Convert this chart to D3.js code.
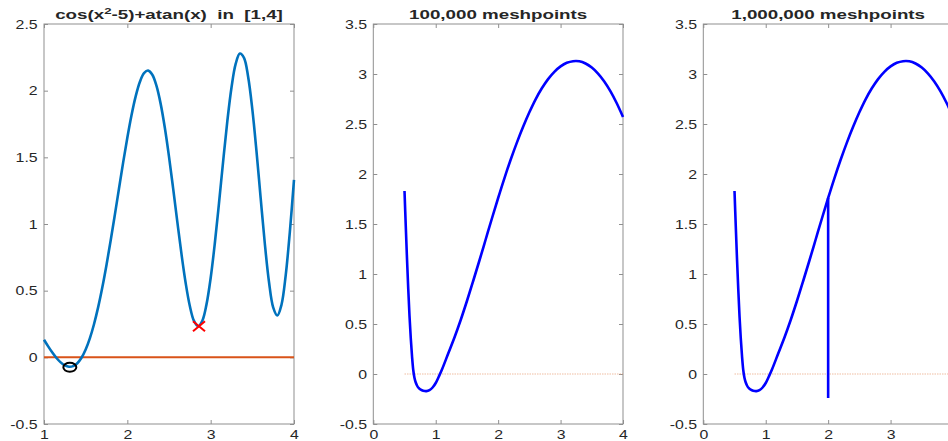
<!DOCTYPE html>
<html>
<head>
<meta charset="utf-8">
<script src="https://cdn.jsdelivr.net/npm/d3@7"></script>
<style>
  body { margin: 0; background: #fff; }
  svg { display: block; }
  text { font-family: "Liberation Sans", Arial, Helvetica, sans-serif; fill: #262626; }
</style>
</head>
<body>
<div id="chart"></div>
<script>
// panel 1: cos(x^2-5)+atan(x) sampled on [1,4]
var fx = [1.00, 1.05, 1.10, 1.15, 1.20, 1.25, 1.30, 1.35, 1.40, 1.45, 1.50, 1.55, 1.60, 1.65, 1.70, 1.75,
  1.80, 1.85, 1.90, 1.95, 2.00, 2.05, 2.10, 2.15, 2.20, 2.25, 2.30, 2.35, 2.40, 2.45, 2.50, 2.55,
  2.60, 2.65, 2.70, 2.75, 2.80, 2.85, 2.90, 2.95, 3.00, 3.05, 3.10, 3.15, 3.20, 3.25, 3.30, 3.35,
  3.40, 3.45, 3.50, 3.55, 3.60, 3.65, 3.70, 3.75, 3.80, 3.85, 3.90, 3.95, 4.00];
var fy = [0.1318, 0.0821, 0.0359, -0.0048, -0.0377, -0.0605, -0.0708, -0.0661, -0.0443, -0.0033, 0.0585,
  0.1422, 0.2484, 0.3766, 0.5256, 0.6931, 0.8756, 1.0686, 1.2663, 1.4620, 1.6474, 1.8159, 1.9573,
  2.0650, 2.1314, 2.1506, 2.1189, 2.0351, 1.9009, 1.7215, 1.5056, 1.2654, 1.0155, 0.7735, 0.5573,
  0.3851, 0.2729, 0.2336, 0.2746, 0.3972, 0.5954, 0.8555, 1.1565, 1.4719, 1.7714, 2.0237, 2.2003,
  2.2789, 2.2467, 2.1030, 1.8604, 1.5451, 1.1940, 0.8519, 0.5648, 0.3751, 0.3136, 0.3947, 0.6125,
  0.9399, 1.3302];
var zeroX1 = [1, 4];
var rootMark = [1.31, -0.075];   // black circle
var minMark = [2.86, 0.233];     // red cross

// panels 2 and 3: mesh-sampled curve on [0.5,4]
var mx = [0.50, 0.52, 0.54, 0.56, 0.58, 0.60, 0.62, 0.64, 0.66, 0.68, 0.70, 0.73, 0.76, 0.80, 0.85,
  0.90, 0.95, 1.00, 1.05, 1.10, 1.20, 1.30, 1.40, 1.50, 1.60, 1.70, 1.80, 1.90, 2.00, 2.10,
  2.20, 2.30, 2.40, 2.50, 2.60, 2.70, 2.80, 2.90, 3.00, 3.10, 3.20, 3.30, 3.40, 3.50, 3.60, 3.70,
  3.80, 3.90, 4.00];
var my = [1.83, 1.48, 1.15, 0.85, 0.58, 0.36, 0.18, 0.04, -0.04, -0.085, -0.115, -0.142, -0.157, -0.167,
  -0.171, -0.162, -0.135, -0.09, -0.025, 0.045, 0.205, 0.365, 0.54, 0.73, 0.93, 1.135, 1.345,
  1.555, 1.76, 1.957, 2.142, 2.314, 2.472, 2.617, 2.747, 2.857, 2.949, 3.022, 3.076, 3.112, 3.128,
  3.127, 3.105, 3.064, 3.004, 2.925, 2.826, 2.707, 2.570];
var zeroX2 = [0.5, 4];
var spikeX = 2.0, spikeTop = 1.76, spikeLow = -0.24;

var titles = ["100,000 meshpoints", "1,000,000 meshpoints"];
var ticks1X = [1, 2, 3, 4], ticks1Y = [-0.5, 0, 0.5, 1, 1.5, 2, 2.5];
var ticks2X = [0, 1, 2, 3, 4], ticks2Y = [-0.5, 0, 0.5, 1, 1.5, 2, 2.5, 3, 3.5];

var W = 948, H = 441, plotTop = 24, plotBottom = 424;
var axisGrey = "#8f8f8f";
var svg = d3.select("#chart").append("svg").attr("width", W).attr("height", H);

function panel(left, right, xd, yd, xt, yt) {
  var x = d3.scaleLinear().domain(xd).range([left, right]);
  var y = d3.scaleLinear().domain(yd).range([plotBottom, plotTop]);
  var g = svg.append("g");
  // labels whose centre falls outside the window are not shown
  var fmtX = function(d) { return x(d) > W ? "" : String(d); };
  var fmt = function(d) { return String(d); };

  function style(ax) {
    ax.select(".domain").remove();
    ax.selectAll("line").attr("stroke", axisGrey);
    ax.selectAll("text").style("font-size", "12.5px").attr("fill", "#262626");
  }
  var bx = g.append("g").attr("transform", "translate(0," + plotBottom + ")")
    .call(d3.axisBottom(x).tickValues(xt).tickFormat(fmtX).tickSize(-4).tickPadding(6));
  style(bx);
  bx.selectAll("text").attr("transform", "scale(1.27,1)");
  var tx = g.append("g").attr("transform", "translate(0," + plotTop + ")")
    .call(d3.axisTop(x).tickValues(xt).tickFormat("").tickSize(-4));
  style(tx);
  var ly = g.append("g").attr("transform", "translate(" + left + ",0)")
    .call(d3.axisLeft(y).tickValues(yt).tickFormat(fmt).tickSize(-4).tickPadding(5));
  style(ly);
  ly.selectAll("text").attr("transform", "scale(1.27,1)");
  var ry = g.append("g").attr("transform", "translate(" + right + ",0)")
    .call(d3.axisRight(y).tickValues(yt).tickFormat("").tickSize(-4));
  style(ry);

  g.append("rect").attr("x", left).attr("y", plotTop)
    .attr("width", right - left).attr("height", plotBottom - plotTop)
    .attr("fill", "none").attr("stroke", axisGrey).attr("stroke-width", 1);
  return { g: g, x: x, y: y, cx: (left + right) / 2 };
}

function title(p, build) {
  var t = svg.append("text")
    .attr("transform", "translate(" + p.cx + ",19) scale(1.39,1)")
    .attr("text-anchor", "middle")
    .style("font-size", "13.5px").style("font-weight", "bold")
    .style("white-space", "pre").attr("fill", "#111");
  build(t);
}

// ---- panel 1
var p1 = panel(44, 294, [1, 4], [-0.5, 2.5], ticks1X, ticks1Y);
var line1 = d3.line().x(function(d) { return p1.x(d[0]); }).y(function(d) { return p1.y(d[1]); });
p1.g.append("path").datum(zeroX1.map(function(v) { return [v, 0]; }))
  .attr("d", line1).attr("fill", "none").attr("stroke", "#D95319").attr("stroke-width", 2);
p1.g.append("path").datum(d3.zip(fx, fy))
  .attr("d", line1.curve(d3.curveCatmullRom.alpha(0.5)))
  .attr("fill", "none").attr("stroke", "#0072BD").attr("stroke-width", 2.6);
p1.g.append("ellipse").attr("cx", p1.x(rootMark[0])).attr("cy", p1.y(rootMark[1]))
  .attr("rx", 6.5).attr("ry", 4.5).attr("fill", "none").attr("stroke", "#000").attr("stroke-width", 2);
var cx = p1.x(minMark[0]), cy = p1.y(minMark[1]);
p1.g.append("path")
  .attr("d", "M" + (cx - 6) + "," + (cy - 5) + "L" + (cx + 6) + "," + (cy + 5) +
             "M" + (cx - 6) + "," + (cy + 5) + "L" + (cx + 6) + "," + (cy - 5))
  .attr("stroke", "#FF0000").attr("stroke-width", 2).attr("fill", "none");
title(p1, function(t) {
  t.append("tspan").text("cos(x");
  t.append("tspan").attr("dy", -5).style("font-size", "9.5px").text("2");
  t.append("tspan").attr("dy", 5).text("-5)+atan(x)  in  [1,4]");
});

// ---- panels 2 and 3
function meshPanel(left, ttl, withSpike) {
  var p = panel(left, left + 249.7, [0, 4], [-0.5, 3.5], ticks2X, ticks2Y);
  var ln = d3.line().x(function(d) { return p.x(d[0]); }).y(function(d) { return p.y(d[1]); });
  p.g.append("path").datum(zeroX2.map(function(v) { return [v, 0]; }))
    .attr("d", ln).attr("fill", "none").attr("stroke", "#E8A07A").attr("stroke-width", 0.7)
    .attr("stroke-dasharray", "1.5,1");
  p.g.append("path").datum(d3.zip(mx, my))
    .attr("d", ln.curve(d3.curveCatmullRom.alpha(0.5)))
    .attr("fill", "none").attr("stroke", "#0000FF").attr("stroke-width", 2.6);
  if (withSpike) {
    p.g.append("path").datum([[spikeX, spikeTop], [spikeX, spikeLow]])
      .attr("d", ln.curve(d3.curveLinear)).attr("fill", "none")
      .attr("stroke", "#0000FF").attr("stroke-width", 2.6);
  }
  title(p, function(t) { t.text(ttl); });
}
meshPanel(373.3, titles[0], false);
meshPanel(703.3, titles[1], true);
</script>
</body>
</html>
